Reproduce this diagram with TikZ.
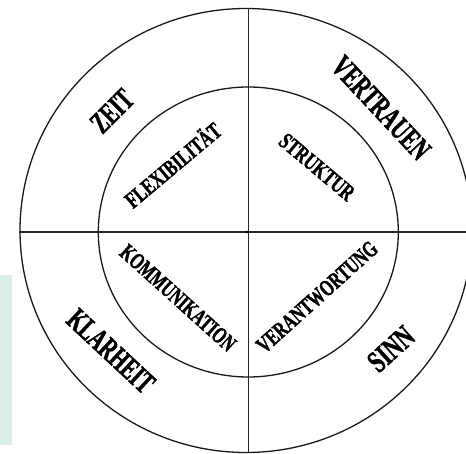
\documentclass[tikz,border=0pt]{standalone}
\usepackage{fontspec}
\setmainfont{Liberation Serif}
\newfontfamily\heavyserif{Liberation Serif Bold}[FakeBold=1.8]
\newcommand{\wordbig}[2]{\scalebox{#1}[1]{\fontsize{31}{31}\heavyserif #2}}
\newcommand{\wordsmall}[2]{\scalebox{#1}[1]{\fontsize{23}{23}\heavyserif #2}}
\begin{document}
\begin{tikzpicture}[x=1pt,y=-1pt,
  ring/.style={draw=black!90, line width=1.3pt},
  axis/.style={draw=black!85, line width=1.1pt},
  word/.style={inner sep=0pt}]
\useasboundingbox (0,0) rectangle (466,454);
\fill[fill={rgb,255:red,220;green,238;blue,232}] (0,275) rectangle (12,445);
% rings
\draw[ring] (246,230.5) ellipse [x radius=226, y radius=222];
\draw[ring] (248.3,232) ellipse [x radius=150, y radius=145];
% axes
\coordinate (L) at (19,232);
\coordinate (R) at (466,232);
\coordinate (T) at (248.3,8.5);
\coordinate (B) at (248.3,452);
\draw[axis] (L) -- (R);
\draw[axis] (T) -- (B);
\fill[black] (247,232) circle (1.3);
% outer words
\node[word, rotate=45] (zeit) at (112,111) {\wordbig{0.64}{ZEIT}};
\node[word, rotate=-47] (vertrauen) at (381,108) {\wordbig{0.66}{VERTRAUEN}};
\node[word, rotate=-43] (klarheit) at (111,351) {\wordbig{0.64}{KLARHEIT}};
\node[word, rotate=42] (sinn) at (391,349) {\wordbig{0.69}{SINN}};
% inner words
\node[word, rotate=40] (flex) at (172,164) {\wordsmall{0.71}{FLEXIBILITÄT}};
\node[word, rotate=-40] (struktur) at (317,167) {\wordsmall{0.71}{STRUKTUR}};
\node[word, rotate=-42] (komm) at (178,298) {\wordsmall{0.69}{KOMMUNIKATION}};
\node[word, rotate=42] (verant) at (317,297) {\wordsmall{0.70}{VERANTWORTUNG}};
\end{tikzpicture}
\end{document}
